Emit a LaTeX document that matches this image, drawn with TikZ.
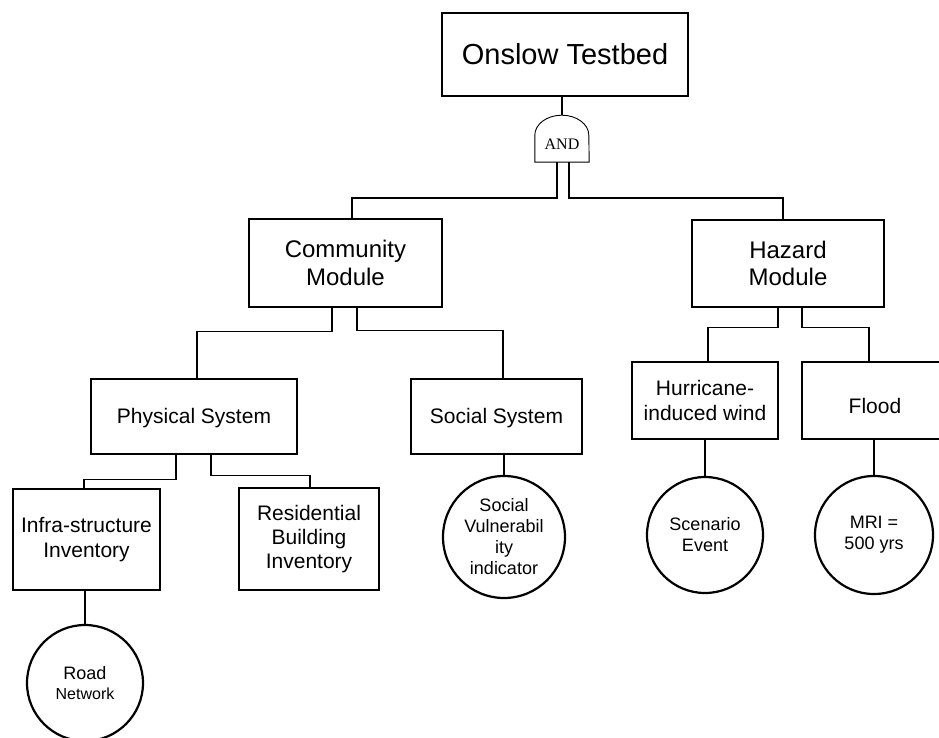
\documentclass[tikz,border=0pt]{standalone}
\usepackage{fontspec}
\setmainfont{Liberation Sans}
\newfontfamily\gatefont{Liberation Serif}
\newcommand{\lowered}[2]{\raisebox{-#1}[\height][\depth]{#2}}
\begin{document}
\begin{tikzpicture}[x=1pt,y=-1pt,
  box/.style={draw, line width=2.4pt, rectangle, inner sep=0pt, align=center, fill=white},
  leaf/.style={draw, circle, line width=2.2pt, inner sep=0pt, align=center, fill=white},
  wire/.style={line width=1.4pt},
  ftop/.style={font=\fontsize{29}{33}\selectfont},
  fmod/.style={font=\fontsize{24}{27.6}\selectfont},
  fsys/.style={font=\fontsize{21}{24.2}\selectfont},
  fleaf/.style={font=\fontsize{18}{21}\selectfont}]
\useasboundingbox (0,0) rectangle (939,738);

% boxes
\node[box, ftop, minimum width=246pt, minimum height=83pt] (top) at (565,54.5) {Onslow Testbed};
\node[box, fmod, minimum width=193pt, minimum height=88pt] (comm) at (345.5,263) {Community\\Module};
\node[box, fmod, minimum width=192pt, minimum height=87pt] (haz) at (788,263.5) {Hazard\\Module};
\node[box, fsys, minimum width=206pt, minimum height=75pt] (phys) at (194,416.5) {\lowered{2pt}{Physical System}};
\node[box, fsys, minimum width=171pt, minimum height=75pt] (soc) at (496.5,416.5) {\lowered{2pt}{Social System}};
\node[box, fsys, minimum width=146pt, minimum height=77pt] (hurr) at (705,400.5) {Hurricane-\\induced wind};
\node[box, fsys, minimum width=146pt, minimum height=77pt] (flood) at (875,400.5) {\lowered{5pt}{Flood}};
\node[box, fsys, minimum width=147pt, minimum height=101pt] (infra) at (86.5,539.5) {Infra-structure\\Inventory};
\node[box, fsys, minimum width=140pt, minimum height=102pt] (res) at (309,539) {Residential\\Building\\Inventory};

% circles
\node[leaf, fleaf, minimum size=122pt] (svi) at (504,537) {Social\\Vulnerabil\\ity\\indicator};
\node[leaf, fleaf, minimum size=116pt] (scen) at (705,535) {Scenario\\Event};
\node[leaf, fleaf, minimum size=118pt] (mri) at (874,535) {MRI =\\500 yrs};
\node[leaf, font=\fontsize{18}{20}\selectfont, minimum size=116pt] (road) at (85,683)
  {Road\\{\fontsize{16}{20}\selectfont Network}};

% AND gate
\node[minimum width=54pt, minimum height=47pt, inner sep=0pt] (gate) at (562,138.5) {};
\draw[line width=0.9pt, fill=white] (gate.south west) -- ++(0,-27)
  arc[start angle=180, end angle=0, x radius=27pt, y radius=20pt]
  -- (gate.south east) -- cycle;
\node[font=\gatefont\fontsize{16}{18}\selectfont, inner sep=0pt] (andlbl) at (562,144) {AND};

% connectors
\draw[wire] (top.south -| gate.north) -- (gate.north);
\draw[wire] ([xshift=-5pt]gate.south) -- ++(0,36) -| ([xshift=6.5pt]comm.north);
\draw[wire] ([xshift=7pt]gate.south) -- ++(0,36) -| ([xshift=-5pt]haz.north);
\draw[wire] ([xshift=-13.5pt]comm.south) -- ++(0,23) -| ([xshift=3pt]phys.north);
\draw[wire] ([xshift=11.5pt]comm.south) -- ++(0,22) -| ([xshift=6.5pt]soc.north);
\draw[wire] ([xshift=-10pt]haz.south) -- ++(0,19) -| ([xshift=3pt]hurr.north);
\draw[wire] ([xshift=14pt]haz.south) -- ++(0,19) -| ([xshift=-6pt]flood.north);
\draw[wire] ([xshift=-18pt]phys.south) -- ++(0,24) -| ([xshift=-2.5pt]infra.north);
\draw[wire] ([xshift=17pt]phys.south) -- ++(0,20) -| ([xshift=1pt]res.north);
\draw[wire] (svi.north |- soc.south) -- (svi.north);
\draw[wire] (scen.north |- hurr.south) -- (scen.north);
\draw[wire] (mri.north |- flood.south) -- (mri.north);
\draw[wire] (road.north |- infra.south) -- (road.north);
\end{tikzpicture}
\end{document}
